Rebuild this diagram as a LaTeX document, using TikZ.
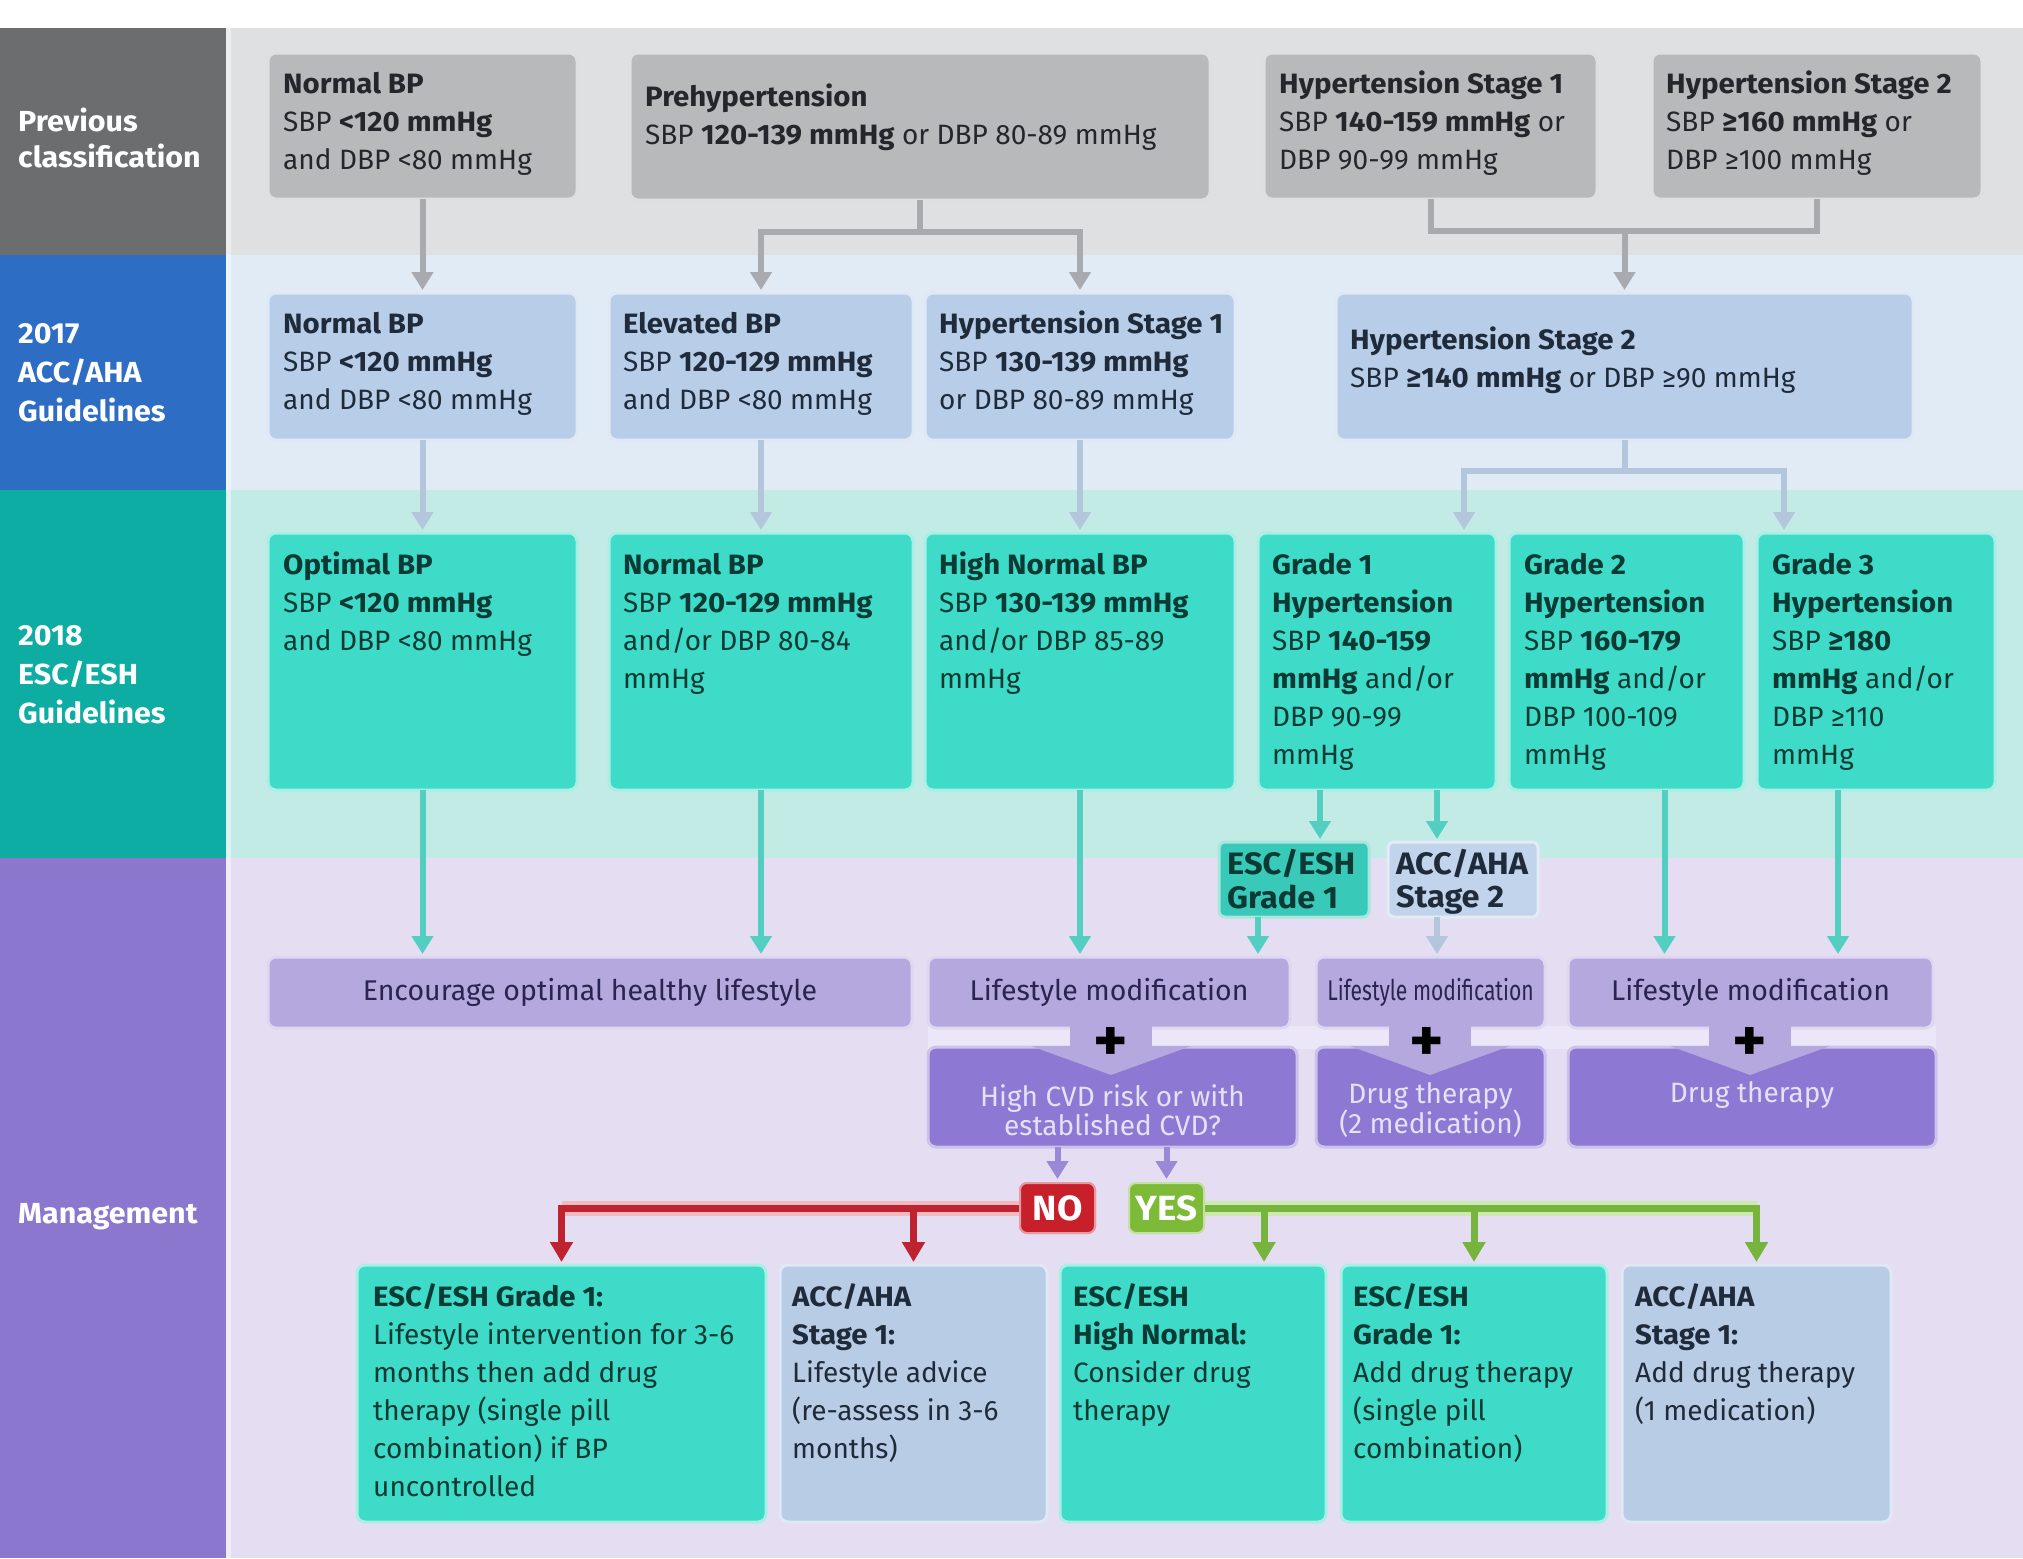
\documentclass[tikz,border=0pt]{standalone}
\usepackage{fontspec}
\setmainfont{Fira Sans}[BoldFeatures={FakeStretch=1.05}]
\usetikzlibrary{arrows.meta,calc}
\definecolor{colPrev}{HTML}{6C6D6F}
\definecolor{colAcc}{HTML}{2D6DC3}
\definecolor{colEsc}{HTML}{0EADA4}
\definecolor{colMan}{HTML}{8C77CF}
\definecolor{bgA}{HTML}{DFE0E2}
\definecolor{bgB}{HTML}{E1EBF6}
\definecolor{bgC}{HTML}{C3EBE5}
\definecolor{bgD}{HTML}{E5DEF3}
\definecolor{boxA}{HTML}{B8B9BB}
\definecolor{boxB}{HTML}{B7CDE8}
\definecolor{boxC}{HTML}{3DDBC8}
\definecolor{boxL}{HTML}{B4A8DE}
\definecolor{boxP}{HTML}{8D78D3}
\definecolor{boxD}{HTML}{B8CCE6}
\definecolor{txtA}{HTML}{23272C}
\definecolor{txtB}{HTML}{1F2B3A}
\definecolor{txtC}{HTML}{0B3A35}
\definecolor{txtL}{HTML}{2A2450}
\definecolor{txtP}{HTML}{E6E1F8}
\definecolor{arrA}{HTML}{A9AAAD}
\definecolor{arrB}{HTML}{B3C6DB}
\definecolor{arrC}{HTML}{52CFC1}
\definecolor{arrP}{HTML}{9A88D8}
\definecolor{redc}{HTML}{BF2330}
\definecolor{redh}{HTML}{F3B9C0}
\definecolor{grnc}{HTML}{77B43E}
\definecolor{grnh}{HTML}{CDE8B0}
\definecolor{noc}{HTML}{C8202B}
\definecolor{yesc}{HTML}{7DBA38}
\definecolor{gapc}{HTML}{ECE7F8}
\begin{document}
\begin{tikzpicture}[x=1pt,y=-1pt,
  box/.style={anchor=north west, inner sep=0pt, outer sep=0pt, rounded corners=8pt, fill=#1, draw=#1!45!white, line width=3pt},
  txt/.style={anchor=north west, inner sep=0pt, align=left, font=\fontsize{28}{38}\selectfont},
  stxt/.style={anchor=north west, inner sep=0pt, align=left, font=\bfseries\fontsize{31}{31}\selectfont},
  ctxt/.style={inner sep=0pt, align=center, font=\fontsize{28.5}{38}\selectfont, text=txtL},
  ptxt/.style={inner sep=0pt, align=center, font=\fontsize{28}{29}\selectfont, text=txtP},
  lab/.style={anchor=north west, inner sep=0pt, align=left, text=white, font=\bfseries\fontsize{29}{#1}\selectfont},
  plus/.style={inner sep=0pt, font=\bfseries\fontsize{62}{62}\selectfont, text=black},
  arr/.style={line width=6pt, draw=#1, -{Triangle[width=21pt,length=18pt]}, shorten >=3pt},
  ln/.style={line width=6pt, draw=#1},
  yn/.style={inner sep=0pt, rounded corners=7pt, minimum width=75pt, minimum height=50pt, fill=#1, draw=#1!45!white, line width=2pt, text=white, font=\bfseries\fontsize{35}{35}\selectfont},
  halo/.style={line width=15pt, draw=#1},
  carr/.style={line width=7pt, draw=#1, -{Triangle[width=22pt,length=20pt]}, shorten >=3pt},
]
\useasboundingbox (0,0) rectangle (2023,1558);
\fill[white] (0,0) rectangle (2023,1558);
% left column
\fill[colPrev] (0,28) rectangle (226,255);
\fill[colAcc] (0,255) rectangle (226,490);
\fill[colEsc] (0,490) rectangle (226,858);
\fill[colMan] (0,858) rectangle (226,1558);
% row backgrounds
\fill[bgA] (226,28) rectangle (2023,255);
\fill[bgB] (226,255) rectangle (2023,490);
\fill[bgC] (226,490) rectangle (2023,858);
\fill[bgD] (226,858) rectangle (2023,1558);
\fill[white,opacity=0.45] (226,28) rectangle (231,1558);

% left labels
\node[lab=36] (labA) at (18,105.8) {\strut Previous\\classification};
\node[lab=39] (labB) at (18,315.7) {\strut 2017\\ACC/AHA\\Guidelines};
\node[lab=39] (labC) at (18,617.7) {\strut 2018\\ESC/ESH\\Guidelines};
\node[lab=36] (labD) at (18,1197.8) {\strut Management};

% row 1
\node[box=boxA, minimum width=309pt, minimum height=146pt] (a1) at (268,53) {};
\node[box=boxA, minimum width=580pt, minimum height=147pt] (a2) at (630,53) {};
\node[box=boxA, minimum width=333pt, minimum height=146pt] (a3) at (1264,53) {};
\node[box=boxA, minimum width=330pt, minimum height=146pt] (a4) at (1652,53) {};
\node[txt, text=txtA] (a1t) at ([shift={(15pt,-13.4pt)}]a1.north west) {\strut\textbf{Normal BP}\\SBP \textbf{<120 mmHg}\\and DBP <80 mmHg};
\node[txt, text=txtA] (a2t) at ([shift={(15pt,-26.4pt)}]a2.north west) {\strut\textbf{Prehypertension}\\SBP \textbf{120-139 mmHg} or DBP 80-89 mmHg};
\node[txt, text=txtA] (a3t) at ([shift={(15pt,-13.4pt)}]a3.north west) {\strut\textbf{Hypertension Stage 1}\\SBP \textbf{140-159 mmHg} or\\DBP 90-99 mmHg};
\node[txt, text=txtA] (a4t) at ([shift={(14pt,-13.4pt)}]a4.north west) {\strut\textbf{Hypertension Stage 2}\\SBP \textbf{≥160 mmHg} or\\DBP ≥100 mmHg};

% row 2
\node[box=boxB, minimum width=309pt, minimum height=147pt] (b1) at (268,293) {};
\node[box=boxB, minimum width=304pt, minimum height=147pt] (b2) at (609,293) {};
\node[box=boxB, minimum width=310pt, minimum height=147pt] (b3) at (925,293) {};
\node[box=boxB, minimum width=577pt, minimum height=147pt] (b4) at (1336,293) {};
\node[txt, text=txtB] (b1t) at ([shift={(15pt,-13.4pt)}]b1.north west) {\strut\textbf{Normal BP}\\SBP \textbf{<120 mmHg}\\and DBP <80 mmHg};
\node[txt, text=txtB] (b2t) at ([shift={(14pt,-13.4pt)}]b2.north west) {\strut\textbf{Elevated BP}\\SBP \textbf{120-129 mmHg}\\and DBP <80 mmHg};
\node[txt, text=txtB] (b3t) at ([shift={(14pt,-13.4pt)}]b3.north west) {\strut\textbf{Hypertension Stage 1}\\SBP \textbf{130-139 mmHg}\\or DBP 80-89 mmHg};
\node[txt, text=txtB] (b4t) at ([shift={(14pt,-29.4pt)}]b4.north west) {\strut\textbf{Hypertension Stage 2}\\SBP \textbf{≥140 mmHg} or DBP ≥90 mmHg};

% row 3
\node[box=boxC, minimum width=309pt, minimum height=257pt] (c1) at (268,533) {};
\node[box=boxC, minimum width=304pt, minimum height=257pt] (c2) at (609,533) {};
\node[box=boxC, minimum width=310pt, minimum height=257pt] (c3) at (925,533) {};
\node[box=boxC, minimum width=238pt, minimum height=257pt] (c4) at (1258,533) {};
\node[box=boxC, minimum width=235pt, minimum height=257pt] (c5) at (1509,533) {};
\node[box=boxC, minimum width=238pt, minimum height=257pt] (c6) at (1757,533) {};
\node[txt, text=txtC] (c1t) at ([shift={(15pt,-14.4pt)}]c1.north west) {\strut\textbf{Optimal BP}\\SBP \textbf{<120 mmHg}\\and DBP <80 mmHg};
\node[txt, text=txtC] (c2t) at ([shift={(14pt,-14.4pt)}]c2.north west) {\strut\textbf{Normal BP}\\SBP \textbf{120-129 mmHg}\\and/or DBP 80-84\\mmHg};
\node[txt, text=txtC] (c3t) at ([shift={(14pt,-14.4pt)}]c3.north west) {\strut\textbf{High Normal BP}\\SBP \textbf{130-139 mmHg}\\and/or DBP 85-89\\mmHg};
\node[txt, text=txtC] (c4t) at ([shift={(14pt,-14.4pt)}]c4.north west) {\strut\textbf{Grade 1}\\\textbf{Hypertension}\\SBP \textbf{140-159}\\\textbf{mmHg} and/or\\DBP 90-99\\mmHg};
\node[txt, text=txtC] (c5t) at ([shift={(15pt,-14.4pt)}]c5.north west) {\strut\textbf{Grade 2}\\\textbf{Hypertension}\\SBP \textbf{160-179}\\\textbf{mmHg} and/or\\DBP 100-109\\mmHg};
\node[txt, text=txtC] (c6t) at ([shift={(15pt,-14.4pt)}]c6.north west) {\strut\textbf{Grade 3}\\\textbf{Hypertension}\\SBP \textbf{≥180}\\\textbf{mmHg} and/or\\DBP ≥110\\mmHg};

% small boxes
\node[box=boxC!92!black, minimum width=150pt, minimum height=75pt, rounded corners=6pt] (sb1) at (1219,842) {};
\node[box=boxB!85!white, minimum width=150pt, minimum height=75pt, rounded corners=6pt] (sb2) at (1388,842) {};
\node[stxt, text=txtC] (sb1t) at ([shift={(8pt,-7.3pt)}]sb1.north west) {\strut ESC/ESH\\Grade 1};
\node[stxt, text=txtB] (sb2t) at ([shift={(8pt,-7.3pt)}]sb2.north west) {\strut ACC/AHA\\Stage 2};

% management boxes
\fill[gapc] (928,1026) rectangle (1936,1049);
\node[box=boxP, minimum width=369pt, minimum height=100pt] (p1) at (928,1047) {};
\node[box=boxP, minimum width=229pt, minimum height=100pt] (p2) at (1316,1047) {};
\node[box=boxP, minimum width=368pt, minimum height=100pt] (p3) at (1568,1047) {};
\node[box=boxL, minimum width=644pt, minimum height=71pt] (l1) at (268,957) {};
\node[box=boxL, minimum width=362pt, minimum height=71pt] (l2) at (928,957) {};
\node[box=boxL, minimum width=229pt, minimum height=71pt] (l3) at (1316,957) {};
\node[box=boxL, minimum width=365pt, minimum height=71pt] (l4) at (1568,957) {};
% notches
\foreach \cx in {1111,1430,1750}{
  \fill[boxL] (\cx-41,1026) rectangle (\cx+41,1049);
  \fill[boxL] (\cx-80,1046) -- (\cx+80,1046) -- (\cx,1075) -- cycle;
}
\node[plus] (pl1) at (1111,1044) {+};
\node[plus] (pl2) at (1427,1044) {+};
\node[plus] (pl3) at (1750,1044) {+};
\node[ctxt] (l1t) at (l1.center) {Encourage optimal healthy lifestyle};
\node[ctxt] (l2t) at (l2.center) {Lifestyle modification};
\node[ctxt] (l3t) at (l3.center) {\scalebox{0.74}[1]{Lifestyle modification}};
\node[ctxt] (l4t) at (l4.center) {Lifestyle modification};
\node[ptxt] (p1t) at ([yshift=-13pt]p1.center) {High CVD risk or with\\established CVD?};
\node[ptxt] (p2t) at ([yshift=-13pt]p2.center) {Drug therapy\\(2 medication)};
\node[ptxt] (p3t) at ([yshift=2pt]p3.center) {Drug therapy};

% bottom boxes
\node[box=boxC, minimum width=409pt, minimum height=257pt] (d1) at (357,1265) {};
\node[box=boxD, minimum width=267pt, minimum height=257pt] (d2) at (780,1265) {};
\node[box=boxC, minimum width=266pt, minimum height=257pt] (d3) at (1060,1265) {};
\node[box=boxC, minimum width=266pt, minimum height=257pt] (d4) at (1341,1265) {};
\node[box=boxD, minimum width=269pt, minimum height=257pt] (d5) at (1622,1265) {};
\node[txt, text=txtC] (d1t) at ([shift={(16pt,-14.4pt)}]d1.north west) {\strut\textbf{ESC/ESH Grade 1:}\\Lifestyle intervention for 3-6\\months then add drug\\therapy (single pill\\combination) if BP\\uncontrolled};
\node[txt, text=txtB] (d2t) at ([shift={(12pt,-14.4pt)}]d2.north west) {\strut\textbf{ACC/AHA}\\\textbf{Stage 1:}\\Lifestyle advice\\(re-assess in 3-6\\months)};
\node[txt, text=txtC] (d3t) at ([shift={(13pt,-14.4pt)}]d3.north west) {\strut\textbf{ESC/ESH}\\\textbf{High Normal:}\\Consider drug\\therapy};
\node[txt, text=txtC] (d4t) at ([shift={(12pt,-14.4pt)}]d4.north west) {\strut\textbf{ESC/ESH}\\\textbf{Grade 1:}\\Add drug therapy\\(single pill\\combination)};
\node[txt, text=txtB] (d5t) at ([shift={(13pt,-14.4pt)}]d5.north west) {\strut\textbf{ACC/AHA}\\\textbf{Stage 1:}\\Add drug therapy\\(1 medication)};

% NO / YES (placed for anchors)
\node[yn=noc] (no) at (1057.5,1208) {NO};
\node[yn=yesc] (yes) at (1166.5,1208) {YES};

% connectors row1 -> row2
\draw[arr=arrA] (a1.south) -- (b1.north);
\coordinate (ja) at ($(a2.south)+(0,32)$);
\draw[ln=arrA] (a2.south) -- (ja);
\draw[arr=arrA] (ja) -| (b2.north);
\draw[arr=arrA] (ja) -| (b3.north);
\coordinate (jb) at ($(a3.south)+(0,32)$);
\draw[ln=arrA] (a3.south) -- (jb) -- (jb -| a4.south) -- (a4.south);
\draw[arr=arrA] (jb -| b4.north) -- (b4.north);
% row2 -> row3
\draw[arr=arrB] (b1.south) -- (c1.north);
\draw[arr=arrB] (b2.south) -- (c2.north);
\draw[arr=arrB] (b3.south) -- (c3.north);
\coordinate (jc) at ($(b4.south)+(0,31)$);
\draw[ln=arrB] (b4.south) -- (jc);
\draw[arr=arrB] (jc) -| ([xshift=87pt]c4.north);
\draw[arr=arrB] (jc) -| ([xshift=-92pt]c6.north);
% row3 -> small boxes
\draw[arr=arrC] ([xshift=-57pt]c4.south) -- ([xshift=-57pt]c4.south |- sb1.north);
\draw[arr=arrC] ([xshift=60pt]c4.south) -- ([xshift=60pt]c4.south |- sb2.north);
% row3 -> management
\draw[arr=arrC] (c1.south) -- (c1.south |- l1.north);
\draw[arr=arrC] (c2.south) -- (c2.south |- l1.north);
\draw[arr=arrC] (c3.south) -- (c3.south |- l2.north);
\draw[arr=arrC] ([xshift=-36pt]sb1.south) -- ([xshift=-36pt]sb1.south |- l2.north);
\draw[arr=arrB] ([xshift=-26pt]sb2.south) -- ([xshift=-26pt]sb2.south |- l3.north);
\draw[arr=arrC] ([xshift=38pt]c5.south) -- ([xshift=38pt]c5.south |- l4.north);
\draw[arr=arrC] ([xshift=-38pt]c6.south) -- ([xshift=-38pt]c6.south |- l4.north);
% purple -> NO/YES
\draw[arr=arrP] (no.north |- p1.south) -- (no.north);
\draw[arr=arrP] (yes.north |- p1.south) -- (yes.north);
% NO branch
\draw[halo=redh] (no.west) -- (no.west -| d1.north);
\draw[carr=redc] (no.west) -| (d1.north);
\draw[carr=redc] (d2.north |- no.west) -- (d2.north);
% YES branch
\draw[halo=grnh] (yes.east) -- (yes.east -| d5.north);
\draw[carr=grnc] (yes.east) -| (d5.north);
\draw[carr=grnc] ([xshift=71pt]d3.north |- yes.east) -- ([xshift=71pt]d3.north);
\draw[carr=grnc] (d4.north |- yes.east) -- (d4.north);
\node[yn=noc] (no2) at (no) {NO};
\node[yn=yesc] (yes2) at (yes) {YES};
\end{tikzpicture}
\end{document}
